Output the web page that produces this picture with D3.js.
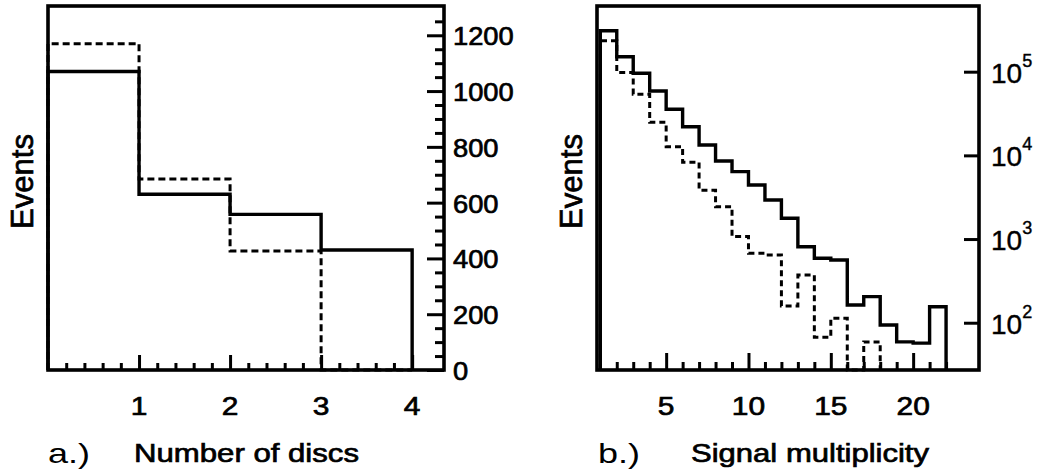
<!DOCTYPE html>
<html><head><meta charset="utf-8">
<script src="https://cdn.jsdelivr.net/npm/d3@7"></script>
<style>
html,body{margin:0;padding:0;background:#fff;}
svg{display:block;}
text{font-family:"Liberation Sans",Arial,Helvetica,sans-serif;fill:#000;}
text.heavy{stroke:#000;stroke-width:0.7px;}
</style></head><body>
<svg id="chart" width="1037" height="472"></svg>
<script>
// ---------- Panel a: Number of discs ----------
const discEdges  = [0, 1, 2, 3, 4];
const discSolid  = [1070, 630, 558, 430];
const discDashed = [1170, 685, 427, 0];
const discTickLabels  = [1, 2, 3, 4];
const eventTickLabels = [0, 200, 400, 600, 800, 1000, 1200];

// ---------- Panel b: Signal multiplicity ----------
const multEdges  = [1,2,3,4,5,6,7,8,9,10,11,12,13,14,15,16,17,18,19,20,21,22];
const multSolid  = [309000,151000,95700,58800,35500,22000,13300,8570,6390,4430,2930,1770,810,589,562,163,205,94,59,57,155];
const multDashed = [234600,97800,53700,24800,12700,8270,3830,2440,1070,676,645,158,371,67,113,0,59];
const multTickLabels = [5, 10, 15, 20];
const logTickExponents = [2, 3, 4, 5];

const svg = d3.select("#chart");

function stepPath(edges, vals, x, y, base) {
  const yv = v => (v > 0 ? y(v) : base);
  let d = `M${x(edges[0])},${base}`;
  vals.forEach((v, i) => { d += `V${yv(v)}H${x(edges[i + 1])}`; });
  d += `V${base}`;
  return d;
}
function styleTicks(g, w) {
  g.select(".domain").remove();
  g.selectAll(".tick line").attr("stroke", "#000").attr("stroke-width", w);
}

// ===== Panel a =====
{
  const L = 48, R = 444, T = 6, B = 370;
  const x = d3.scaleLinear().domain([0, 4.35]).range([L, R]);
  const y = d3.scaleLinear().domain([0, 1305]).range([B, T]);
  const g = svg.append("g");

  g.append("path").attr("d", stepPath(discEdges, discDashed, x, y, B))
    .attr("fill", "none").attr("stroke", "#000").attr("stroke-width", 3)
    .attr("stroke-dasharray", "7,4");
  g.append("path").attr("d", stepPath(discEdges, discSolid, x, y, B))
    .attr("fill", "none").attr("stroke", "#000").attr("stroke-width", 3.4);

  const minorX = d3.range(1, 21).map(i => i / 5).filter(v => Math.abs(v - Math.round(v)) > 1e-6);
  g.append("g").attr("transform", `translate(0,${B})`)
    .call(d3.axisBottom(x).tickValues(minorX).tickSize(-7).tickFormat(""))
    .call(s => styleTicks(s, 3));
  g.append("g").attr("transform", `translate(0,${B})`)
    .call(d3.axisBottom(x).tickValues(discTickLabels).tickSize(-15).tickFormat(""))
    .call(s => styleTicks(s, 3));

  const minorY = d3.range(1, 26).map(i => i * 50).filter(v => v % 200 !== 0);
  g.append("g").attr("transform", `translate(${R},0)`)
    .call(d3.axisRight(y).tickValues(minorY).tickSize(-9).tickFormat(""))
    .call(s => styleTicks(s, 3));
  g.append("g").attr("transform", `translate(${R},0)`)
    .call(d3.axisRight(y).tickValues(eventTickLabels).tickSize(-17).tickFormat(""))
    .call(s => styleTicks(s, 3));

  g.append("rect").attr("x", L).attr("y", T).attr("width", R - L).attr("height", B - T)
    .attr("fill", "none").attr("stroke", "#000").attr("stroke-width", 3.6);

  g.selectAll("text.xl").data(discTickLabels).join("text").attr("class", "xl heavy")
    .attr("transform", d => `translate(${x(d)},415) scale(1.15,1)`)
    .attr("text-anchor", "middle").attr("font-size", 26)
    .text(d => d);
  g.selectAll("text.yl").data(eventTickLabels).join("text").attr("class", "yl heavy")
    .attr("transform", d => `translate(453,${y(d) + 10}) scale(1.05,1)`)
    .attr("font-size", 26)
    .text(d => d);

  g.append("text").attr("class", "heavy").attr("x", 134).attr("y", 462).attr("font-size", 26)
    .attr("textLength", 225).attr("lengthAdjust", "spacingAndGlyphs").text("Number of discs");
  g.append("text").attr("class", "heavy").attr("transform", "translate(33,181.5) rotate(-90)").attr("text-anchor", "middle")
    .attr("font-size", 32)
    .attr("textLength", 95).attr("lengthAdjust", "spacingAndGlyphs").text("Events");
  g.append("text").attr("x", 48).attr("y", 463).attr("font-size", 28)
    .attr("textLength", 42).attr("lengthAdjust", "spacingAndGlyphs").text("a.)");
}

// ===== Panel b =====
{
  const L = 597, R = 979, T = 6, B = 370;
  const x = d3.scaleLinear().domain([0.8, 24]).range([L, R]);
  const y = d3.scaleLog().domain([Math.pow(10, 1.435), Math.pow(10, 5.785)]).range([B, T]);
  const g = svg.append("g");

  g.append("path").attr("d", stepPath(multEdges, multDashed, x, y, B))
    .attr("fill", "none").attr("stroke", "#000").attr("stroke-width", 3)
    .attr("stroke-dasharray", "6,4");
  g.append("path").attr("d", stepPath(multEdges, multSolid, x, y, B))
    .attr("fill", "none").attr("stroke", "#000").attr("stroke-width", 3.4);

  const minorX = d3.range(2, 23).filter(v => v % 5 !== 0);
  g.append("g").attr("transform", `translate(0,${B})`)
    .call(d3.axisBottom(x).tickValues(minorX).tickSize(-8).tickFormat(""))
    .call(s => styleTicks(s, 3));
  g.append("g").attr("transform", `translate(0,${B})`)
    .call(d3.axisBottom(x).tickValues(multTickLabels).tickSize(-17).tickFormat(""))
    .call(s => styleTicks(s, 3));
  const logTicks = logTickExponents.map(e => Math.pow(10, e));
  g.append("g").attr("transform", `translate(${R},0)`)
    .call(d3.axisRight(y).tickValues(logTicks).tickSize(-15).tickFormat(""))
    .call(s => styleTicks(s, 3));

  g.append("rect").attr("x", L).attr("y", T).attr("width", R - L).attr("height", B - T)
    .attr("fill", "none").attr("stroke", "#000").attr("stroke-width", 3.6);

  g.selectAll("text.xl").data(multTickLabels).join("text").attr("class", "xl heavy")
    .attr("transform", d => `translate(${x(d)},415) scale(1.15,1)`)
    .attr("text-anchor", "middle").attr("font-size", 26)
    .text(d => d);
  const yl = g.selectAll("text.yl").data(logTickExponents).join("text").attr("class", "yl")
    .attr("transform", d => `translate(991,${y(Math.pow(10, d)) + 11})`)
    .attr("font-size", 28).attr("stroke", "#000").attr("stroke-width", 0.4);
  yl.append("tspan").text("10");
  yl.append("tspan").attr("dy", -16).attr("font-size", 18).text(d => d);

  g.append("text").attr("class", "heavy").attr("x", 691).attr("y", 462).attr("font-size", 26)
    .attr("textLength", 238).attr("lengthAdjust", "spacingAndGlyphs").text("Signal multiplicity");
  g.append("text").attr("class", "heavy").attr("transform", "translate(582,181.5) rotate(-90)").attr("text-anchor", "middle")
    .attr("font-size", 32)
    .attr("textLength", 95).attr("lengthAdjust", "spacingAndGlyphs").text("Events");
  g.append("text").attr("x", 598).attr("y", 463).attr("font-size", 28)
    .attr("textLength", 42).attr("lengthAdjust", "spacingAndGlyphs").text("b.)");
}
</script>
</body></html>
